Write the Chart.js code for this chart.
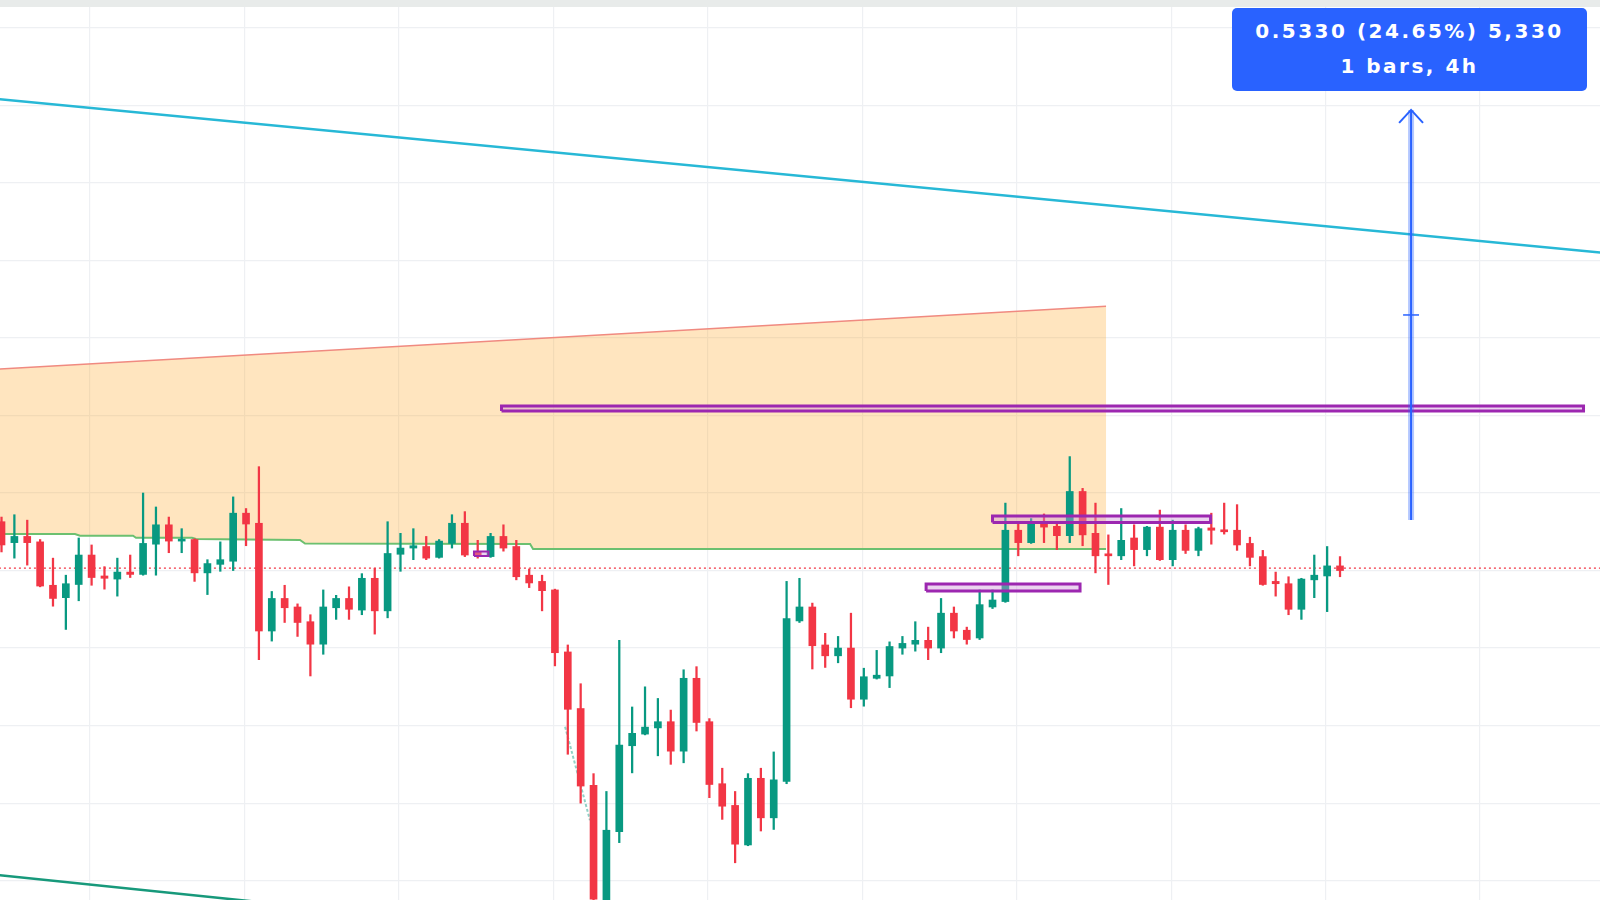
<!DOCTYPE html>
<html>
<head>
<meta charset="utf-8">
<title>4h chart</title>
<script src="https://cdn.jsdelivr.net/npm/chart.js@4.4.0/dist/chart.umd.min.js"></script>
<style>
  body { margin: 0; background: #ffffff; }
  #wrap { position: relative; width: 1600px; height: 900px; overflow: hidden; }
  #chart { display: block; }
  #topBar { position: absolute; left: 0; top: 0; width: 1600px; height: 7px; background: #e8ebea; }
  #measure {
    position: absolute; left: 1232px; top: 8px; width: 355px; height: 83px;
    box-sizing: border-box; padding-top: 6px;
    background: #2962ff; border-radius: 5px; color: #ffffff;
    font: bold 20px "DejaVu Sans", sans-serif; letter-spacing: 2.5px;
    line-height: 35px; text-align: center;
  }
</style>
</head>
<body>
<div id="wrap">
  <canvas id="chart" width="1600" height="900"></canvas>
  <div id="topBar"></div>
  <div id="measure"><div>0.5330 (24.65%) 5,330</div><div>1 bars, 4h</div></div>
</div>
<script>
// candles (4h bars)
const opens = [2.163, 2.136, 2.144, 2.137, 2.081, 2.065, 2.082, 2.120, 2.093, 2.089,
  2.098, 2.095, 2.134, 2.159, 2.138, 2.140, 2.097, 2.108, 2.112, 2.174,
  2.161, 2.022, 2.064, 2.053, 2.034, 2.005, 2.052, 2.064, 2.049, 2.090,
  2.048, 2.121, 2.129, 2.131, 2.117, 2.135, 2.161, 2.124, 2.118, 2.144,
  2.131, 2.094, 2.086, 2.075, 1.995, 1.922, 1.823, 1.672, 1.763, 1.874,
  1.889, 1.897, 1.905, 1.867, 1.961, 1.905, 1.825, 1.797, 1.746, 1.832,
  1.781, 1.828, 2.035, 2.053, 2.004, 1.990, 2.000, 1.934, 1.961, 1.964,
  2.000, 2.005, 2.010, 2.000, 2.045, 2.023, 2.013, 2.053, 2.060, 2.152,
  2.136, 2.161, 2.157, 2.145, 2.202, 2.148, 2.120, 2.119, 2.142, 2.127,
  2.156, 2.114, 2.152, 2.126, 2.155, 2.152, 2.152, 2.135, 2.118, 2.086,
  2.083, 2.050, 2.088, 2.093, 2.106];
const highs = [2.169, 2.172, 2.165, 2.140, 2.116, 2.094, 2.142, 2.133, 2.105, 2.116,
  2.120, 2.200, 2.182, 2.169, 2.154, 2.141, 2.114, 2.137, 2.195, 2.180,
  2.234, 2.073, 2.081, 2.057, 2.043, 2.075, 2.068, 2.079, 2.096, 2.103,
  2.163, 2.148, 2.154, 2.144, 2.140, 2.172, 2.176, 2.139, 2.148, 2.159,
  2.139, 2.102, 2.094, 2.076, 2.004, 1.954, 1.838, 1.815, 2.010, 1.924,
  1.950, 1.935, 1.920, 1.972, 1.976, 1.909, 1.845, 1.815, 1.838, 1.845,
  1.866, 2.086, 2.090, 2.058, 2.019, 2.015, 2.045, 1.974, 1.997, 2.008,
  2.015, 2.034, 2.027, 2.064, 2.053, 2.027, 2.075, 2.075, 2.187, 2.163,
  2.167, 2.173, 2.161, 2.247, 2.206, 2.187, 2.146, 2.180, 2.159, 2.157,
  2.178, 2.165, 2.159, 2.156, 2.174, 2.187, 2.185, 2.143, 2.126, 2.098,
  2.092, 2.090, 2.120, 2.131, 2.118];
const lows = [2.124, 2.116, 2.107, 2.079, 2.054, 2.024, 2.061, 2.081, 2.076, 2.067,
  2.091, 2.094, 2.094, 2.123, 2.123, 2.086, 2.069, 2.099, 2.100, 2.132,
  1.985, 2.009, 2.033, 2.015, 1.964, 1.992, 2.037, 2.037, 2.043, 2.018,
  2.039, 2.099, 2.114, 2.114, 2.116, 2.129, 2.118, 2.116, 2.117, 2.125,
  2.088, 2.078, 2.048, 1.977, 1.863, 1.800, 1.660, 1.660, 1.749, 1.839,
  1.888, 1.861, 1.850, 1.852, 1.893, 1.807, 1.779, 1.723, 1.745, 1.764,
  1.766, 1.825, 2.033, 1.973, 1.975, 1.981, 1.923, 1.925, 1.960, 1.949,
  1.992, 1.996, 1.985, 1.994, 2.013, 2.005, 2.011, 2.051, 2.059, 2.119,
  2.135, 2.136, 2.127, 2.136, 2.132, 2.097, 2.082, 2.114, 2.106, 2.119,
  2.113, 2.106, 2.122, 2.119, 2.134, 2.147, 2.126, 2.106, 2.081, 2.067,
  2.043, 2.037, 2.065, 2.047, 2.092];
const closes = [2.133, 2.144, 2.136, 2.080, 2.064, 2.083, 2.120, 2.091, 2.090, 2.098,
  2.095, 2.135, 2.159, 2.138, 2.140, 2.097, 2.109, 2.114, 2.174, 2.160,
  2.022, 2.064, 2.052, 2.033, 2.005, 2.053, 2.064, 2.050, 2.090, 2.048,
  2.122, 2.129, 2.132, 2.116, 2.138, 2.161, 2.120, 2.119, 2.144, 2.129,
  2.092, 2.084, 2.074, 1.994, 1.921, 1.822, 1.676, 1.765, 1.875, 1.890,
  1.898, 1.905, 1.867, 1.961, 1.904, 1.824, 1.796, 1.747, 1.832, 1.781,
  1.830, 2.038, 2.053, 2.003, 1.990, 2.000, 1.934, 1.963, 1.965, 2.002,
  2.006, 2.010, 2.000, 2.045, 2.022, 2.011, 2.056, 2.062, 2.152, 2.136,
  2.162, 2.156, 2.145, 2.202, 2.146, 2.119, 2.119, 2.139, 2.127, 2.156,
  2.114, 2.152, 2.126, 2.154, 2.152, 2.150, 2.133, 2.117, 2.082, 2.083,
  2.050, 2.089, 2.094, 2.106, 2.100];

// grid positions (bar index / price)
const timeGrid = [6.88, 18.88, 30.88, 42.88, 54.88, 66.88, 78.88, 90.88, 102.88, 114.88];
const priceGrid = [1.7, 1.8, 1.9, 2.0, 2.1, 2.2, 2.3, 2.4, 2.5, 2.6, 2.7, 2.8];
const lastPrice = 2.103;

// drawings: points as {x: bar index, y: price}
const channelLine = [{ x: -0.2, y: 2.708 }, { x: 124.3, y: 2.510 }];
const lowerLine = [{ x: -0.2, y: 1.707 }, { x: 37.18, y: 1.643 }];
const zoneTop = [{ x: -0.2, y: 2.360 }, { x: 85.82, y: 2.441 }];
const zoneBase = [{ x: -0.2, y: 2.1471 }, { x: 5.71, y: 2.1471 }, { x: 6.10, y: 2.1449 },
  { x: 10.22, y: 2.1449 }, { x: 10.45, y: 2.1423 }, { x: 14.80, y: 2.1423 },
  { x: 15.11, y: 2.1406 }, { x: 23.19, y: 2.1394 }, { x: 23.58, y: 2.1348 },
  { x: 41.07, y: 2.1342 }, { x: 41.30, y: 2.1277 }, { x: 85.82, y: 2.1277 }];
const dropTrail = [{ x: 43.79, y: 1.8985 }, { x: 45.72, y: 1.778 }];
const boxes = [
  { x1: 38.85, x2: 122.92, y1: 2.3058, y2: 2.3123 },
  { x1: 77.0, x2: 93.94, y1: 2.1619, y2: 2.1703 },
  { x1: 71.84, x2: 83.80, y1: 2.0735, y2: 2.0826 },
  { x1: 36.71, x2: 37.84, y1: 2.1187, y2: 2.1245 }
];
const measureBar = 109.52;
const measureFrom = 2.1652;
const measureTo = 2.6942;

const GREEN = '#089981';
const RED = '#f23645';

// candle colour
function candleColor(i) {
    return closes[i] >= opens[i] ? GREEN : RED;
}

// line dataset helper
function lineSet(points, color, width, order, extra) {
    return Object.assign({
        type: 'line',
        data: points,
        borderColor: color,
        borderWidth: width,
        pointRadius: 0,
        fill: false,
        tension: 0,
        order: order
    }, extra || {});
}

// closed box outline
function boxPoints(b) {
    return [{ x: b.x1, y: b.y1 }, { x: b.x2, y: b.y1 }, { x: b.x2, y: b.y2 },
        { x: b.x1, y: b.y2 }, { x: b.x1, y: b.y1 }];
}

function buildDatasets() {
    const colors = opens.map((v, i) => candleColor(i));
    const sets = [];

    // orange zone: top edge, right edge, stepped base back to the left
    const zoneShape = zoneTop.concat(zoneBase.slice().reverse());
    sets.push(lineSet(zoneShape, 'rgba(0,0,0,0)', 0, 20,
        { fill: 'shape', backgroundColor: 'rgba(255,152,0,0.25)' }));
    sets.push(lineSet(zoneTop, '#f08a80', 1.5, 19));
    sets.push(lineSet(zoneBase, '#6cc070', 2, 19));

    sets.push(lineSet(channelLine, '#27b8d6', 2.5, 18));
    sets.push(lineSet(lowerLine, '#17997b', 2.5, 18));
    sets.push(lineSet([{ x: -0.2, y: lastPrice }, { x: 124.3, y: lastPrice }], RED, 1.3, 17,
        { borderDash: [2, 3] }));
    sets.push(lineSet(dropTrail, 'rgba(8,153,129,0.45)', 2, 16, { borderDash: [3, 2] }));

    // wicks then bodies
    sets.push({
        type: 'bar',
        data: opens.map((v, i) => ({ x: i, y: [lows[i], highs[i]] })),
        backgroundColor: colors,
        barThickness: 1.6,
        grouped: false,
        order: 6
    });
    sets.push({
        type: 'bar',
        data: opens.map((v, i) => ({ x: i, y: [opens[i], closes[i]] })),
        backgroundColor: colors,
        barThickness: 7,
        minBarLength: 2,
        grouped: false,
        order: 5
    });

    // purple rectangles
    boxes.forEach((b, k) => {
        sets.push(lineSet(boxPoints(b), '#9c27b0', k === 3 ? 2 : 3, 3, {
            fill: 'shape',
            backgroundColor: 'rgba(206,147,216,0.4)',
            borderJoinStyle: 'miter'
        }));
    });

    // measure arrow
    const shaft = [{ x: measureBar, y: measureFrom }, { x: measureBar, y: measureTo }];
    sets.push(lineSet(shaft, 'rgba(41,98,255,0.35)', 6, 2));
    sets.push(lineSet(shaft, '#2962ff', 2, 1));
    sets.push(lineSet([{ x: measureBar - 0.93, y: 2.6774 }, { x: measureBar, y: measureTo },
        { x: measureBar + 0.93, y: 2.6774 }], '#2962ff', 2, 1));
    sets.push(lineSet([{ x: measureBar - 0.62, y: 2.4297 }, { x: measureBar + 0.62, y: 2.4297 }],
        '#2962ff', 1.5, 1));
    return sets;
}

function drawChart() {
    const ctx = document.getElementById('chart').getContext('2d');
    new Chart(ctx, {
        type: 'bar',
        data: { datasets: buildDatasets() },
        options: {
            responsive: false,
            animation: false,
            events: [],
            layout: { padding: 0 },
            plugins: { legend: { display: false }, tooltip: { enabled: false } },
            scales: {
                x: {
                    type: 'linear',
                    min: -0.117,
                    max: 124.2,
                    offset: false,
                    ticks: { display: false },
                    border: { display: false },
                    grid: { color: '#eef0f3', lineWidth: 1.2, drawTicks: false, offset: false },
                    afterBuildTicks: function (scale) {
                        scale.ticks = timeGrid.map(v => ({ value: v }));
                    }
                },
                y: {
                    type: 'linear',
                    min: 1.675,
                    max: 2.836,
                    ticks: { display: false },
                    border: { display: false },
                    grid: { color: '#eef0f3', lineWidth: 1.2, drawTicks: false },
                    afterBuildTicks: function (scale) {
                        scale.ticks = priceGrid.map(v => ({ value: v }));
                    }
                }
            }
        }
    });
}

drawChart();
</script>
</body>
</html>
